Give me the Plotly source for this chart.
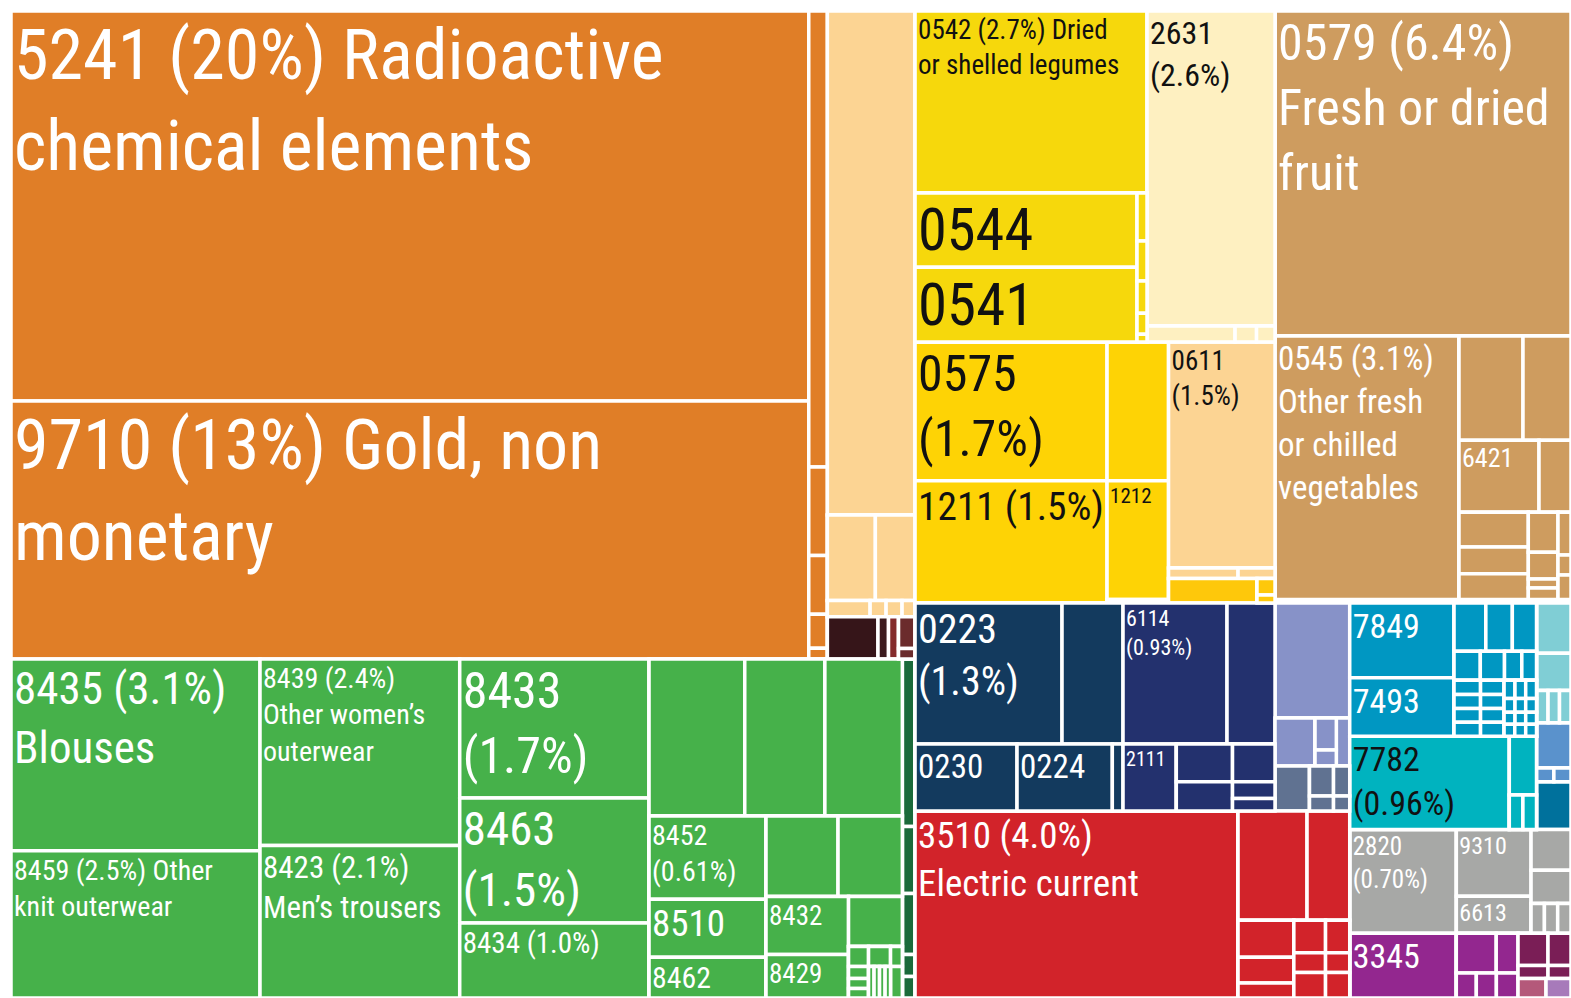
import plotly.graph_objects as go

# ---------------- data: nodes in layout order (structural groups have value 0) ----------------
node_ids = [
    "root", "L", "LT", "OM", "5241", "9710", "OS", "o1", "o2", "o3", "o4", "o5",
    "PC", "p1", "P2", "p2a", "p2b", "P3", "p3a", "p3b", "p3c", "p3d",
    "BR", "b1", "b2", "b3", "B4", "b4a", "b4b",
    "LB", "G1", "8435", "8459", "G2", "8439", "8423", "G3", "8433", "8463", "8434",
    "G4", "G4U", "ga", "gb", "gc", "G4L", "G4LL", "8452", "8510", "8462",
    "G4LR", "G4R1", "gd", "ge", "G4R2", "G4A", "8432", "8429", "G4B", "gf", "GT",
    "T1", "t1a", "t1b", "t1c", "t1d", "T2", "t2a", "T2B", "t2b1", "t2b2", "t2b3", "t2b4", "T3", "t3a", "t3b",
    "DG", "dg1", "dg2", "dg3", "dg4", "dg5",
    "R", "RT", "YB", "YU", "YC", "0542", "YM", "Y45", "0544", "0541", "YS", "ys1", "ys2", "ys3", "ys4", "ys5",
    "CC", "2631", "CR", "cr1", "cr2", "cr3",
    "YL", "C1", "0575", "1211", "C2", "y1", "1212", "ytiny",
    "C3", "0611", "C3R1", "pk1", "pk2", "C3R2", "dy1", "C3S", "dy2", "dy3",
    "TAN", "0579", "TL", "0545", "TR", "TR1", "ta1", "ta2", "TR2", "6421", "ta3",
    "TR3", "TS1", "ts1a", "ts1b", "ts1c", "TS2", "ts2a", "ts2b", "ts2c", "ts2d", "TS3", "ts3a", "ts3b", "ts3c", "tstrip",
    "RB", "RBL", "TOPB", "NAVY", "NV1", "0223", "n2", "NV2", "0230", "0224", "nthin",
    "IND", "IN1", "6114", "i2", "IN2", "2111", "INA", "ia1", "ia2", "INB", "ib1", "ib2", "ib3",
    "PG", "lav", "PGR1", "lv1", "LV2", "lv2a", "lv2b", "lv3", "PGR2", "sl1", "SL2", "sl2a", "sl2b", "SL3", "sl3a", "sl3b",
    "RED", "3510", "REDR", "RR1", "rr1", "rr2", "RR2", "RA", "ra1", "ra2", "ra3",
    "RBB", "rb1", "rb2", "rb3", "RC", "rc1", "rc2", "rc3",
    "RBR", "BLUE", "BLL", "BLT", "BCOL", "7849", "7493", "GRID", "GR1", "g1a", "g1b", "g1c", "GR2", "g2a", "g2b", "g2c", "g2d",
    "GR3", "GCA", "gca1", "gca2", "gca3", "gca4", "GCB", "gcb1", "gcb2", "gcb3", "gcb4",
    "GCC", "GCC1", "gcc1a", "gcc1b", "gcc1c", "GCC2", "gcc2a", "gcc2b", "gcc2c", "GCC3", "gcc3a", "gcc3b", "gcc3c", "GCC4", "gcc4a", "gcc4b", "gcc4c",
    "BLB", "7782", "TEAL", "tl1", "TL2", "tl2a", "tl2b",
    "BLR", "lt1", "lt2", "LTS", "lts1", "lts2", "lts3", "steel", "STS", "sts1", "sts2", "dblue",
    "GRAY", "2820", "GC1", "9310", "6613", "GC2", "gy1", "gy2", "GY3", "gy3a", "gy3b", "gy3c",
    "PURP", "3345", "PP2", "PP2R1", "pp1", "pp2", "PP2R2", "pp3", "pp4", "pp5",
    "MR", "MR1", "mr1a", "mr1b", "MR2", "mr2a", "mr2b", "MR3", "pink", "lilac",
]

node_parents = [
    "", "root", "L", "LT", "OM", "OM", "LT", "OS", "OS", "OS", "OS", "OS",
    "LT", "PC", "PC", "P2", "P2", "PC", "P3", "P3", "P3", "P3",
    "PC", "BR", "BR", "BR", "BR", "B4", "B4",
    "L", "LB", "G1", "G1", "LB", "G2", "G2", "LB", "G3", "G3", "G3",
    "LB", "G4", "G4U", "G4U", "G4U", "G4", "G4L", "G4LL", "G4LL", "G4LL",
    "G4L", "G4LR", "G4R1", "G4R1", "G4LR", "G4R2", "G4A", "G4A", "G4R2", "G4B", "G4B",
    "GT", "T1", "T1", "T1", "T1", "GT", "T2", "T2", "T2B", "T2B", "T2B", "T2B", "GT", "T3", "T3",
    "LB", "DG", "DG", "DG", "DG", "DG",
    "root", "R", "RT", "YB", "YU", "YC", "YC", "YM", "Y45", "Y45", "YM", "YS", "YS", "YS", "YS", "YS",
    "YU", "CC", "CC", "CR", "CR", "CR",
    "YB", "YL", "C1", "C1", "YL", "C2", "C2", "C2",
    "YL", "C3", "C3", "C3R1", "C3R1", "C3", "C3R2", "C3R2", "C3S", "C3S",
    "RT", "TAN", "TAN", "TL", "TL", "TR", "TR1", "TR1", "TR", "TR2", "TR2",
    "TR", "TR3", "TS1", "TS1", "TS1", "TR3", "TS2", "TS2", "TS2", "TS2", "TR3", "TS3", "TS3", "TS3", "TAN",
    "R", "RB", "RBL", "TOPB", "NAVY", "NV1", "NV1", "NAVY", "NV2", "NV2", "NV2",
    "TOPB", "IND", "IN1", "IN1", "IND", "IN2", "IN2", "INA", "INA", "IN2", "INB", "INB", "INB",
    "TOPB", "PG", "PG", "PGR1", "PGR1", "LV2", "LV2", "PGR1", "PG", "PGR2", "PGR2", "SL2", "SL2", "PGR2", "SL3", "SL3",
    "RBL", "RED", "RED", "REDR", "RR1", "RR1", "REDR", "RR2", "RA", "RA", "RA",
    "RR2", "RBB", "RBB", "RBB", "RR2", "RC", "RC", "RC",
    "RB", "RBR", "BLUE", "BLL", "BLT", "BCOL", "BCOL", "BLT", "GRID", "GR1", "GR1", "GR1", "GRID", "GR2", "GR2", "GR2", "GR2",
    "GRID", "GR3", "GCA", "GCA", "GCA", "GCA", "GR3", "GCB", "GCB", "GCB", "GCB",
    "GR3", "GCC", "GCC1", "GCC1", "GCC1", "GCC", "GCC2", "GCC2", "GCC2", "GCC", "GCC3", "GCC3", "GCC3", "GCC", "GCC4", "GCC4", "GCC4",
    "BLL", "BLB", "BLB", "TEAL", "TEAL", "TL2", "TL2",
    "BLUE", "BLR", "BLR", "BLR", "LTS", "LTS", "LTS", "BLR", "BLR", "STS", "STS", "BLR",
    "RBR", "GRAY", "GRAY", "GC1", "GC1", "GRAY", "GC2", "GC2", "GC2", "GY3", "GY3", "GY3",
    "RBR", "PURP", "PURP", "PP2", "PP2R1", "PP2R1", "PP2", "PP2R2", "PP2R2", "PP2R2",
    "PURP", "MR", "MR1", "MR1", "MR", "MR2", "MR2", "MR", "MR3", "MR3",
]

# share of exports (%) (0 = structural group)
node_values = [
    0, 0, 0, 0, 20.21, 13.37, 0, .551, .107, .071, .041, .013,
    0, 2.871, 0, .266, .220, 0, .0455, .017, .017, .0138,
    0, .139, .0289, .0275, 0, .0341, .0113,
    0, 0, 3.100, 2.382, 0, 2.419, 1.978, 0, 1.709, 1.537, .922,
    0, 0, .976, .817, .790, 0, 0, .632, .4415, .309,
    0, 0, .3764, .3362, 0, 0, .3108, .2331, 0, .1747, 0,
    0, .026, .0156, .013, .0123, 0, .0286, 0, .0113, .0112, .0114, .0111, 0, .0153, .0242,
    0, .1382, .0553, .0503, .0181, .0177,
    0, 0, 0, 0, 0, 2.742, 0, 0, 1.070, 1.0785, 0, .0312, .026, .021, .0136, .005,
    0, 2.619, 0, .0915, .0223, .0192,
    0, 0, 1.730, 1.525, 0, .554, .4745, .014,
    0, 1.563, 0, .0474, .0252, 0, .1408, 0, .0193, .0094,
    0, 6.248, 0, 3.149, 0, 0, .4335, .3252, 0, .3741, .1496,
    0, 0, .1562, .1202, .1161, 0, .0772, .0515, .0174, .0222, 0, .036, .0169, .0207, .0673,
    0, 0, 0, 0, 0, 1.346, .5586, 0, .4438, .4147, .0466,
    0, 0, .9524, .4396, 0, .2319, 0, .1376, .107, 0, .1041, .0464, .0345,
    0, .558, 0, .1247, 0, .0443, .0221, .0418, 0, .1008, 0, .0468, .0234, 0, .0316, .0158,
    0, 3.923, 0, 0, .4898, .3031, 0, 0, .1341, .0931, .0544,
    0, .0667, .0408, .0525, 0, .0509, .0311, .0401,
    0, 0, 0, 0, 0, .506, .397, 0, 0, .0998, .0831, .0759, 0, .0495, .0456, .0326, .0277,
    0, 0, .0245, .0240, .0238, .0241, 0, .0216, .0213, .0212, .0215,
    0, 0, .0128, .0126, .0127, 0, .0099, .0097, .0098, 0, .0085, .0083, .0084, 0, .0083, .0085, .0084,
    0, .966, 0, .1037, 0, .0305, .0305,
    0, .1127, .0833, 0, .0242, .0240, .0241, .1013, 0, .0154, .0152, .1071,
    0, .7187, 0, .3241, .1795, 0, .1057, .0865, 0, .0258, .0256, .0257,
    0, .448, 0, 0, .1029, .0562, 0, .0325, .0326, .0352,
    0, 0, .0627, .0481, 0, .0253, .0194, 0, .0355, .0317,
]

node_colors = [
    "gp", "gp", "gp", "gp", "or", "or", "gp", "or", "or", "or", "or", "or",
    "gp", "pe", "gp", "pe", "pe", "gp", "pe", "pe", "pe", "pe",
    "gp", "dbr", "dbr2", "rbr", "gp", "bbr", "bbr",
    "gp", "gp", "gr", "gr", "gp", "gr", "gr", "gp", "gr", "gr", "gr",
    "gp", "gp", "gr", "gr", "gr", "gp", "gp", "gr", "gr", "gr",
    "gp", "gp", "gr", "gr", "gp", "gp", "gr", "gr", "gp", "gr", "gp",
    "gp", "gr", "gr", "gr", "gr", "gp", "gr", "gp", "gr", "gr", "gr", "gr", "gp", "gr", "gr",
    "gp", "dg", "dg", "dg", "dg", "dg",
    "gp", "gp", "gp", "gp", "gp", "ye", "gp", "gp", "ye", "ye", "gp", "ye", "ye", "ye", "ye", "ye",
    "gp", "cr", "gp", "cr", "cr", "cr",
    "gp", "gp", "yg", "yg", "gp", "yg", "yg", "yg",
    "gp", "pe", "gp", "pe", "pe", "gp", "yd", "gp", "yd", "yd",
    "gp", "tn", "gp", "tn", "gp", "gp", "tn", "tn", "gp", "tn", "tn",
    "gp", "gp", "tn", "tn", "tn", "gp", "tn", "tn", "tn", "tn", "gp", "tn", "tn", "tn", "tb",
    "gp", "gp", "gp", "gp", "gp", "nv", "nv", "gp", "nv", "nv", "nv",
    "gp", "gp", "in", "in", "gp", "in", "gp", "in", "in", "gp", "in", "in", "in",
    "gp", "lv", "gp", "lv", "gp", "lv", "lv", "lv", "gp", "sl", "gp", "sl", "sl", "gp", "sl", "sl",
    "gp", "rd", "gp", "gp", "rd", "rd", "gp", "gp", "rd", "rd", "rd",
    "gp", "rd", "rd", "rd", "gp", "rd", "rd", "rd",
    "gp", "gp", "gp", "gp", "gp", "bl", "bl", "gp", "gp", "bl", "bl", "bl", "gp", "bl", "bl", "bl", "bl",
    "gp", "gp", "bl", "bl", "bl", "bl", "gp", "bl", "bl", "bl", "bl",
    "gp", "gp", "bl", "bl", "bl", "gp", "bl", "bl", "bl", "gp", "bl", "bl", "bl", "gp", "bl", "bl", "bl",
    "gp", "tq", "gp", "tq", "gp", "tq", "tq",
    "gp", "lt", "lt", "gp", "lt", "lt", "lt", "st", "gp", "st", "st", "db",
    "gp", "gy", "gp", "gy", "gy", "gp", "gy", "gy", "gp", "gy", "gy", "gy",
    "gp", "pu", "gp", "gp", "pu", "pu", "gp", "pu", "pu", "pu",
    "gp", "gp", "mr", "mr", "gp", "mr", "mr", "gp", "pk", "li",
]

label_text = {
    "5241": "5241 (20%) Radioactive<br>chemical elements",
    "9710": "9710 (13%) Gold, non<br>monetary",
    "8435": "8435 (3.1%)<br>Blouses",
    "8459": "8459 (2.5%) Other<br>knit outerwear",
    "8439": "8439 (2.4%)<br>Other women’s<br>outerwear",
    "8423": "8423 (2.1%)<br>Men’s trousers",
    "8433": "8433<br>(1.7%)",
    "8463": "8463<br>(1.5%)",
    "8434": "8434 (1.0%)",
    "8452": "8452<br>(0.61%)",
    "8510": "8510", "8462": "8462", "8432": "8432", "8429": "8429",
    "0542": "0542 (2.7%) Dried<br>or shelled legumes",
    "0544": "0544", "0541": "0541",
    "2631": "2631<br>(2.6%)",
    "0575": "0575<br>(1.7%)",
    "1211": "1211 (1.5%)",
    "1212": "1212",
    "0611": "0611<br>(1.5%)",
    "0579": "0579 (6.4%)<br>Fresh or dried<br>fruit",
    "0545": "0545 (3.1%)<br>Other fresh<br>or chilled<br>vegetables",
    "6421": "6421",
    "0223": "0223<br>(1.3%)",
    "6114": "6114<br>(0.93%)",
    "0230": "0230", "0224": "0224", "2111": "2111",
    "7849": "7849", "7493": "7493",
    "7782": "7782<br>(0.96%)",
    "3510": "3510 (4.0%)<br>Electric current",
    "2820": "2820<br>(0.70%)",
    "9310": "9310", "6613": "6613", "3345": "3345",
}

label_size = {
    "5241": 70, "9710": 70, "8435": 45, "8459": 28, "8439": 28, "8423": 31,
    "8433": 50, "8463": 47, "8434": 29, "8452": 28, "8510": 37, "8462": 37,
    "8432": 27, "8429": 27, "0542": 27, "0544": 59, "0541": 59, "2631": 32,
    "0575": 50, "1211": 42, "1212": 21, "0611": 27, "0579": 50, "0545": 33,
    "6421": 26, "0223": 40, "6114": 22, "0230": 33, "0224": 33, "2111": 20,
    "7849": 34, "7493": 34, "7782": 34, "3510": 37, "2820": 25, "9310": 24,
    "6613": 24, "3345": 34,
}

# ---------------- styles ----------------
palette = {
    "gp": "#ffffff", "or": "#e07e27", "pe": "#fcd493", "dbr": "#361519", "dbr2": "#3c1a1e",
    "rbr": "#842b2c", "bbr": "#6b2b2c", "gr": "#46b14a", "dg": "#1b6a3a",
    "ye": "#f6d80c", "yg": "#fed305", "yd": "#fec80b", "cr": "#fef0c1", "tn": "#ce9c5f",
    "tb": "#7d4e2c", "nv": "#133a5e", "in": "#23316e", "lv": "#8792c8", "sl": "#607291",
    "rd": "#d2232a", "bl": "#0097c2", "tq": "#00b3bf", "lt": "#80ced5", "st": "#5a92cc",
    "db": "#00719c", "gy": "#a7a8a6", "pu": "#93278f", "mr": "#7a1e56", "pk": "#b4597a",
    "li": "#a77aba",
}
dark_text = {"ye", "yg", "yd", "cr", "pe", "tq"}

assert len(node_ids) == len(node_parents) == len(node_values) == len(node_colors)

fills = [palette[c] for c in node_colors]
texts = [label_text.get(i, "") for i in node_ids]
sizes = [label_size.get(i, 12) for i in node_ids]
tcolors = ["#111111" if c in dark_text else "#ffffff" for c in node_colors]

FONT = "Liberation Sans Narrow, Roboto Condensed, DejaVu Sans Condensed, Arial Narrow, Liberation Sans, sans-serif"

fig = go.Figure(go.Treemap(
    ids=node_ids,
    labels=node_ids,
    parents=node_parents,
    values=node_values,
    branchvalues="remainder",
    sort=False,
    text=texts,
    texttemplate="%{text}",
    textposition="top left",
    textfont=dict(family=FONT, size=sizes, color=tcolors),
    marker=dict(colors=fills, line=dict(color="#ffffff", width=3.5),
                pad=dict(t=0, l=0, r=0, b=0)),
    tiling=dict(packing="slice-dice", pad=0),
    pathbar=dict(visible=False),
    hoverinfo="skip",
    root=dict(color="#ffffff"),
))

fig.update_layout(
    width=1571, height=998,
    margin=dict(l=11, t=11, r=0, b=0),
    paper_bgcolor="#ffffff",
    showlegend=False,
)

fig.write_html(
    "out.html",
    config={"displayModeBar": False},
    post_script="document.body.style.margin='0px';document.body.style.overflow='hidden';",
)
